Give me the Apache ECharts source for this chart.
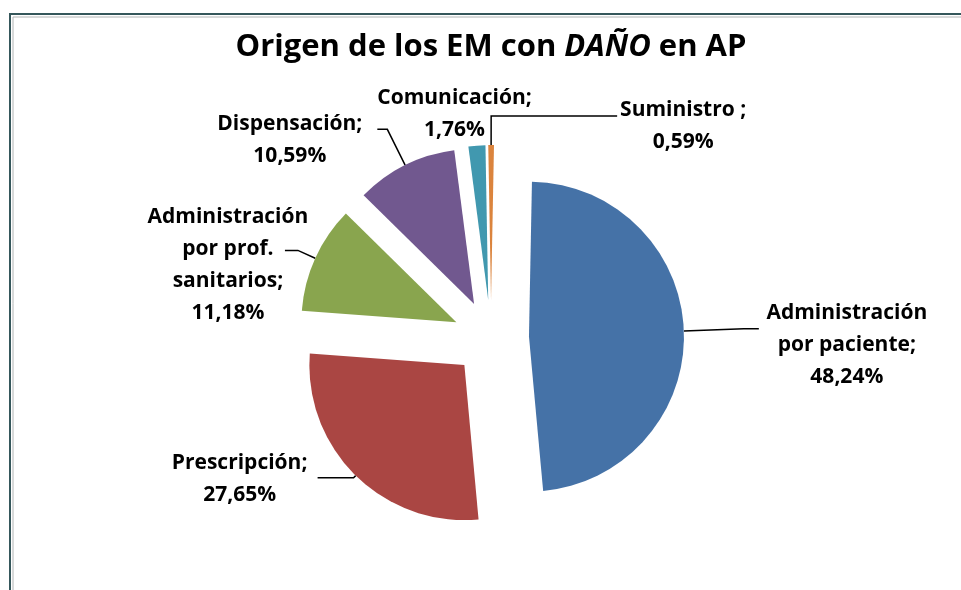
<!DOCTYPE html>
<html>
<head>
<meta charset="utf-8">
<script src="https://cdn.jsdelivr.net/npm/echarts@6/dist/echarts.min.js"></script>
<style>html,body{margin:0;padding:0;background:#fff}#c{width:961px;height:590px}</style>
</head>
<body>
<div id="c"></div>
<script>
const categories = [
  'Administración\npor paciente',
  'Prescripción',
  'Administración\npor prof.\nsanitarios',
  'Dispensación',
  'Comunicación',
  'Suministro '
];
const values = [48.24, 27.65, 11.18, 10.59, 1.76, 0.59];
const colors = ['#4572A7', '#AA4643', '#89A54E', '#71588F', '#4198AF', '#DB843D'];

// label placement: [radial line length, horizontal line length, label box width, padding, show line]
const labelPlacement = [
  [60, 15, 166, [33, 0, 0, 0], true],
  [3, 36, 146, [3, 0, 0, 0], true],
  [19, 13, 164, [30, -30, 0, 0], true],
  [40, 10, 165, [22, 0, 0, 0], true],
  [32, -65, 160, [0, 0, 0, 0], false],
  [29, 126, 122, [20, 0, 0, 0], true]
];

const chart = echarts.init(document.getElementById('c'));
const data = categories.map((n, i) => {
  const p = labelPlacement[i];
  return {
    name: n,
    value: values[i],
    selected: true,
    itemStyle: { color: colors[i] },
    label: { width: p[2], padding: p[3] },
    labelLine: { show: p[4], length: p[0], length2: p[1] }
  };
});

const txt = { fontFamily: 'Open Sans', fontWeight: 'bold', fontSize: 21, lineHeight: 32, color: '#000', align: 'center' };

chart.setOption({
  animation: false,
  title: {
    text: '{a|Origen de los EM con }{b|DAÑO}{a| en AP}',
    left: 486, top: 27, textAlign: 'center',
    textStyle: {
      rich: {
        a: { fontFamily: 'Open Sans', fontWeight: 'bold', fontSize: 31, color: '#000' },
        b: { fontFamily: 'Open Sans', fontWeight: 'bold', fontStyle: 'italic', fontSize: 31, color: '#000' }
      }
    }
  },
  graphic: [
    { type: 'polyline', shape: { points: [[10, 590], [10, 14], [961, 14]] }, style: { stroke: '#35575b', lineWidth: 2, fill: null } },
    { type: 'polyline', shape: { points: [[13, 590], [13, 17], [961, 17]] }, style: { stroke: '#b0b4b4', lineWidth: 1, fill: null } }
  ],
  series: [{
    type: 'pie',
    center: [491, 338],
    radius: [0, 155],
    startAngle: 88.9,
    clockwise: true,
    selectedMode: 'multiple',
    selectedOffset: 38,
    avoidLabelOverlap: false,
    labelLayout: { hideOverlap: false },
    emphasis: { disabled: true },
    itemStyle: { borderWidth: 0 },
    label: {
      show: true,
      position: 'outside',
      alignTo: 'none',
      overflow: 'none',
      distanceToLabelLine: 5,
      fontFamily: 'Open Sans',
      fontWeight: 'bold',
      fontSize: 21,
      lineHeight: 32,
      color: '#000',
      formatter: p => (p.name + ';\n' + p.value.toFixed(2).replace('.', ',') + '%')
        .split('\n').map(s => '{t|' + s + '}').join('\n'),
      rich: { t: txt }
    },
    labelLine: {
      show: true,
      lineStyle: { color: '#000', width: 1.5 }
    },
    data: data
  }]
});
</script>
</body>
</html>
